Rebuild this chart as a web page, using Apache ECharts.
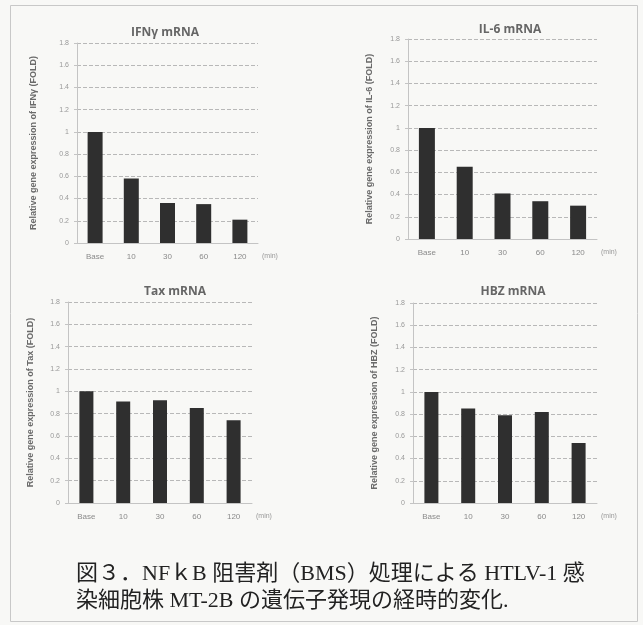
<!DOCTYPE html>
<html><head><meta charset="utf-8">
<script src="https://cdn.jsdelivr.net/npm/echarts@6/dist/echarts.min.js"></script>
<style>html,body{margin:0;padding:0;background:#f8f8f6}#c{width:643px;height:625px}</style>
</head><body><div id="c"></div>
<script>
var categories = ['Base', '10', '30', '60', '120'];
var ifngValues = [1.0, 0.58, 0.36, 0.35, 0.21];
var il6Values = [1.0, 0.65, 0.41, 0.34, 0.30];
var taxValues = [1.0, 0.91, 0.92, 0.85, 0.74];
var hbzValues = [1.0, 0.85, 0.79, 0.82, 0.54];
var panelTitles = ['IFNγ mRNA', 'IL-6 mRNA', 'Tax mRNA', 'HBZ mRNA'];
var yNames = ['Relative gene expression of IFNγ (FOLD)', 'Relative gene expression of IL-6 (FOLD)',
  'Relative gene expression of Tax (FOLD)', 'Relative gene expression of HBZ (FOLD)'];
var unitLabel = '(min)';
var captionLines = ['図３．NFｋB 阻害剤（BMS）処理による HTLV-1 感', '染細胞株 MT-2B の遺伝子発現の経時的変化.'];

var seriesValues = [ifngValues, il6Values, taxValues, hbzValues];
var grids = [
  {left: 77, top: 43, width: 181, height: 200},
  {left: 408, top: 39, width: 189, height: 200},
  {left: 68, top: 302, width: 184, height: 201},
  {left: 413, top: 303, width: 184, height: 200}
];
var titleCenters = [[160, 22], [505, 19], [170, 281], [508, 281]];
var nameGaps = [39, 34, 33, 34];
var barWidths = [15, 16, 14, 14];

var chart = echarts.init(document.getElementById('c'), null, {renderer: 'canvas'});
var titles = panelTitles.map(function (t, i) {
  return {text: t, left: titleCenters[i][0], top: titleCenters[i][1], textAlign: 'center',
    textStyle: {fontFamily: 'Open Sans', fontWeight: 'bold', fontSize: 12, color: '#666'}};
});
var option = {
  backgroundColor: '#f8f8f6',
  animation: false,
  title: titles,
  grid: grids,
  xAxis: grids.map(function (g, i) {
    return {type: 'category', gridIndex: i, data: categories,
      name: unitLabel, nameLocation: 'end', nameGap: 4,
      nameTextStyle: {fontSize: 7, color: '#999', verticalAlign: 'top', padding: [10, 0, 0, 0]},
      axisLine: {lineStyle: {color: '#c4c4c4'}}, axisTick: {show: false},
      axisLabel: {fontSize: 8, color: '#8a8a8a', margin: 10}};
  }),
  yAxis: grids.map(function (g, i) {
    return {type: 'value', gridIndex: i, min: 0, max: 1.8, interval: 0.2,
      name: yNames[i], nameLocation: 'middle', nameRotate: 90, nameGap: nameGaps[i],
      nameTextStyle: {fontSize: 9, fontWeight: 'bold', color: '#6a6a6a', fontFamily: 'Liberation Sans Narrow, Liberation Sans'},
      axisLine: {show: true, lineStyle: {color: '#c4c4c4'}},
      axisTick: {show: true, length: 3, lineStyle: {color: '#c4c4c4'}},
      axisLabel: {fontSize: 7, color: '#999', margin: 8,
        formatter: function (v) { return String(Math.round(v * 10) / 10); }},
      splitLine: {lineStyle: {color: '#b8b8b8', type: [4, 2]}}};
  }),
  series: seriesValues.map(function (vals, i) {
    return {type: 'bar', xAxisIndex: i, yAxisIndex: i, data: vals, barWidth: barWidths[i],
      itemStyle: {color: '#2f2f2f'}};
  }),
  graphic: [
    {type: 'rect', shape: {x: 10.5, y: 5.5, width: 627, height: 616},
      style: {fill: null, stroke: '#c8c8c8', lineWidth: 1}, silent: true},
    {type: 'text', left: 76, top: 561,
      style: {text: captionLines.join('\n'), fontSize: 22, lineHeight: 27, fill: '#222',
        fontFamily: 'Liberation Serif, Noto Sans CJK JP'}}
  ]
};
chart.setOption(option);
</script></body></html>
